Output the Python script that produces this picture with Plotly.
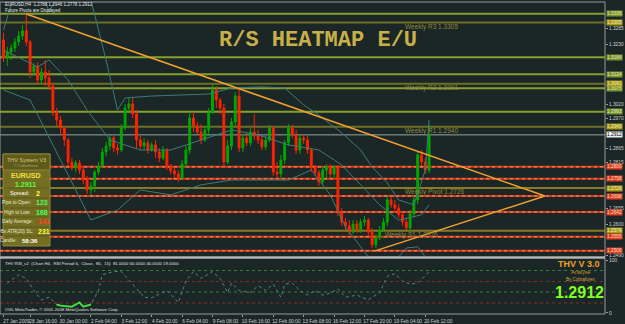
import plotly.graph_objects as go

# ---------------- data ----------------
bar_index = list(range(113))
opens = [1.3244, 1.3181, 1.3202, 1.3216, 1.3237, 1.3258, 1.3276, 1.3237, 1.3132, 1.3153,
         1.3104, 1.3132, 1.3111, 1.3083, 1.2992, 1.2964, 1.2936, 1.2894, 1.2817, 1.2796,
         1.2814, 1.2789, 1.2754, 1.2719, 1.2733, 1.2782, 1.2803, 1.2852, 1.2873, 1.2901,
         1.2866, 1.2859, 1.2936, 1.3006, 1.3020, 1.2985, 1.2894, 1.2873, 1.2884, 1.2859,
         1.2877, 1.2852, 1.2831, 1.2859, 1.2803, 1.2786, 1.2775, 1.2761, 1.2810, 1.2859,
         1.2971, 1.2943, 1.2922, 1.2894, 1.2929, 1.2992, 1.3069, 1.3034, 1.3006, 1.2817,
         1.2873, 1.2957, 1.3048, 1.2866, 1.2901, 1.2884, 1.2922, 1.2908, 1.2894, 1.2870,
         1.2894, 1.2936, 1.2782, 1.2775, 1.2824, 1.2884, 1.2936, 1.2912, 1.2859, 1.2901,
         1.2894, 1.2859, 1.2796, 1.2779, 1.2747, 1.2789, 1.2800, 1.2775, 1.2800, 1.2642,
         1.2607, 1.2593, 1.2572, 1.2600, 1.2579, 1.2607, 1.2614, 1.2572, 1.2527, 1.2551,
         1.2579, 1.2607, 1.2684, 1.2667, 1.2656, 1.2632, 1.2607, 1.2586, 1.2635, 1.2684,
         1.2842, 1.2817, 1.2788]
highs = [1.3269, 1.3220, 1.3230, 1.3251, 1.3276, 1.3297, 1.3335, 1.3244, 1.3164, 1.3167,
         1.3146, 1.3174, 1.3139, 1.3090, 1.3006, 1.2978, 1.2943, 1.2901, 1.2831, 1.2824,
         1.2824, 1.2796, 1.2768, 1.2747, 1.2789, 1.2817, 1.2866, 1.2887, 1.2912, 1.2908,
         1.2880, 1.2950, 1.3020, 1.3041, 1.3041, 1.2999, 1.2908, 1.2901, 1.2894, 1.2887,
         1.2894, 1.2866, 1.2873, 1.2866, 1.2810, 1.2796, 1.2789, 1.2824, 1.2873, 1.2992,
         1.2992, 1.2957, 1.2950, 1.2943, 1.3006, 1.3090, 1.3083, 1.3041, 1.3020, 1.2894,
         1.2971, 1.3062, 1.3076, 1.2915, 1.2922, 1.2936, 1.2985, 1.2929, 1.2908, 1.2908,
         1.2947, 1.2943, 1.2817, 1.2842, 1.2894, 1.2950, 1.2947, 1.2929, 1.2915, 1.2915,
         1.2908, 1.2866, 1.2807, 1.2789, 1.2803, 1.2810, 1.2810, 1.2807, 1.2807, 1.2656,
         1.2621, 1.2614, 1.2614, 1.2614, 1.2618, 1.2628, 1.2621, 1.2586, 1.2565, 1.2593,
         1.2621, 1.2698, 1.2698, 1.2684, 1.2670, 1.2642, 1.2621, 1.2649, 1.2698, 1.2852,
         1.2859, 1.2831, 1.2946]
lows = [1.3167, 1.3153, 1.3174, 1.3202, 1.3223, 1.3244, 1.3223, 1.3111, 1.3118, 1.3087,
        1.3090, 1.3083, 1.3069, 1.2978, 1.2943, 1.2915, 1.2873, 1.2803, 1.2789, 1.2782,
        1.2775, 1.2740, 1.2705, 1.2702, 1.2712, 1.2772, 1.2796, 1.2838, 1.2859, 1.2852,
        1.2842, 1.2852, 1.2929, 1.2992, 1.2971, 1.2866, 1.2859, 1.2859, 1.2845, 1.2852,
        1.2831, 1.2817, 1.2824, 1.2789, 1.2775, 1.2761, 1.2747, 1.2754, 1.2796, 1.2845,
        1.2922, 1.2915, 1.2880, 1.2887, 1.2908, 1.2985, 1.3006, 1.2985, 1.2796, 1.2810,
        1.2859, 1.2943, 1.2852, 1.2852, 1.2873, 1.2873, 1.2894, 1.2880, 1.2859, 1.2859,
        1.2887, 1.2768, 1.2761, 1.2761, 1.2810, 1.2873, 1.2901, 1.2845, 1.2845, 1.2880,
        1.2845, 1.2782, 1.2768, 1.2733, 1.2737, 1.2761, 1.2761, 1.2761, 1.2628, 1.2593,
        1.2579, 1.2562, 1.2565, 1.2569, 1.2569, 1.2593, 1.2558, 1.2516, 1.2516, 1.2544,
        1.2572, 1.2593, 1.2656, 1.2642, 1.2621, 1.2593, 1.2579, 1.2572, 1.2621, 1.2670,
        1.2803, 1.2775, 1.2778]
closes = [1.3181, 1.3202, 1.3216, 1.3237, 1.3258, 1.3276, 1.3237, 1.3132, 1.3153, 1.3104,
          1.3132, 1.3111, 1.3083, 1.2992, 1.2964, 1.2936, 1.2894, 1.2817, 1.2796, 1.2814,
          1.2789, 1.2754, 1.2719, 1.2733, 1.2782, 1.2803, 1.2852, 1.2873, 1.2901, 1.2866,
          1.2859, 1.2936, 1.3006, 1.3020, 1.2985, 1.2894, 1.2873, 1.2884, 1.2859, 1.2877,
          1.2852, 1.2831, 1.2859, 1.2803, 1.2786, 1.2775, 1.2761, 1.2810, 1.2859, 1.2971,
          1.2943, 1.2922, 1.2894, 1.2929, 1.2992, 1.3069, 1.3034, 1.3006, 1.2817, 1.2873,
          1.2957, 1.3048, 1.2866, 1.2901, 1.2884, 1.2922, 1.2908, 1.2894, 1.2870, 1.2894,
          1.2936, 1.2782, 1.2775, 1.2824, 1.2884, 1.2936, 1.2912, 1.2859, 1.2901, 1.2894,
          1.2859, 1.2796, 1.2779, 1.2747, 1.2789, 1.2800, 1.2775, 1.2800, 1.2642, 1.2607,
          1.2593, 1.2572, 1.2600, 1.2579, 1.2607, 1.2614, 1.2572, 1.2527, 1.2551, 1.2579,
          1.2607, 1.2684, 1.2667, 1.2656, 1.2632, 1.2607, 1.2586, 1.2635, 1.2684, 1.2842,
          1.2817, 1.2789, 1.2912]

tick_idx = [0, 7, 15, 23, 31, 39, 47, 55, 63, 71, 79, 87, 95, 103, 111]
tick_labels = ["27 Jan 2009", "28 Jan 16:00", "30 Jan 00:00", "2 Feb 04:00", "3 Feb 12:00",
               "4 Feb 20:00", "6 Feb 04:00", "9 Feb 08:00", "10 Feb 16:00", "12 Feb 00:00",
               "13 Feb 08:00", "16 Feb 12:00", "17 Feb 20:00", "19 Feb 04:00", "20 Feb 12:00"]

price_ticks = [1.3285, 1.3230, 1.3020, 1.2970, 1.2865, 1.2815, 1.2655, 1.2600, 1.2490]

green_levels = [1.3336, 1.3184, 1.3124, 1.3075, 1.2993]
weekly_names = ["R3", "R2", "R1", "Pivot", "S1"]
weekly_levels = [1.3305, 1.3091, 1.2940, 1.2726, 1.2576]
red_levels = [1.2800, 1.2758, 1.2698, 1.2642, 1.2555, 1.2506]
current_price = 1.2912

trend_x = [6, 142.5]
trend_y = [1.3335, 1.2698]
support_x = [97.8, 142.5]
support_y = [1.2506, 1.2698]

bb_up_idx = [0, 2, 4, 10, 12, 15, 20, 23, 27, 30, 32, 39, 46, 54, 60, 68, 74, 79, 83, 89, 94, 97, 101, 104, 108, 111, 112]
bb_up = [1.3279, 1.3374, 1.3454, 1.3419, 1.3342, 1.3419, 1.3454, 1.3384, 1.3174, 1.2999, 1.3041,
         1.3048, 1.3051, 1.3055, 1.3076, 1.3080, 1.3076, 1.3017, 1.2981, 1.2919, 1.2859, 1.2800,
         1.2744, 1.2684, 1.2667, 1.2789, 1.2964]
bb_mid_idx = [0, 9, 12, 17, 22, 28, 36, 44, 52, 60, 67, 75, 83, 89, 94, 99, 104, 110, 112]
bb_mid = [1.3209, 1.3150, 1.3174, 1.3104, 1.2999, 1.2894, 1.2859, 1.2859, 1.2894, 1.2929, 1.2912,
          1.2877, 1.2859, 1.2807, 1.2737, 1.2667, 1.2614, 1.2632, 1.2667]
bb_lo_idx = [0, 7, 15, 23, 30, 36, 44, 52, 60, 68, 75, 81, 86, 90, 96, 104, 106, 109, 111, 112]
bb_lo = [1.3069, 1.3034, 1.2824, 1.2614, 1.2649, 1.2719, 1.2702, 1.2737, 1.2754, 1.2754, 1.2754,
         1.2789, 1.2702, 1.2590, 1.2485, 1.2485, 1.2516, 1.2520, 1.2485, 1.2439]

rsi_idx = [1, 4, 6, 8, 10, 12, 14, 15, 18, 20, 21, 23, 25, 26, 29, 31, 34, 37, 39, 43, 46, 48, 50,
           52, 55, 57, 59, 60, 62, 65, 67, 69, 71, 73, 74, 76, 78, 80, 82, 84, 86, 88, 90, 93, 96,
           99, 101, 103, 105, 107, 109, 112]
rsi_val = [57, 73, 66, 43, 25, 30, 16, 14, 12, 20, 12, 16, 43, 73, 79, 79, 55, 30, 29, 43, 20, 61, 79,
           66, 79, 66, 39, 57, 43, 39, 52, 43, 55, 30, 55, 57, 43, 34, 43, 34, 38, 46, 30, 34, 25,
           39, 70, 75, 61, 55, 57, 79]
rsi_os_idx = [14, 15, 18, 20, 21, 23]
rsi_os_val = [16, 14, 12, 20, 12, 16]
rsi_levels = [81, 60, 40, 19]
rsi_level_colors = ["#3c7a3c", "#8a2a2a", "#3c7a3c", "#8a2a2a"]

symbol = "EURUSD"
bid = 1.2911
spread = 2
pips_to_open = 123
high_to_low = 168
daily_average = 141
atr_sl = 231
candle_time = "58:36"

# ---------------- figure ----------------
BG = "#1b2626"
W, H = 625, 324
ML, MR, MT, MB = 0, 20, 2, 10
PW = W - ML - MR
PH = H - MT - MB


def px(x):
    return x / PW


def py(y):
    return (PH + MT - y) / PH


fig = go.Figure()

for xi, yi in [(bb_up_idx, bb_up), (bb_mid_idx, bb_mid), (bb_lo_idx, bb_lo)]:
    fig.add_trace(go.Scatter(x=xi, y=yi, mode="lines", line=dict(color="#3f7a78", width=1),
                             xaxis="x", yaxis="y", hoverinfo="skip"))

fig.add_trace(go.Candlestick(
    x=bar_index, open=opens, high=highs, low=lows, close=closes,
    increasing=dict(line=dict(color="#00a800", width=1), fillcolor="#00a800"),
    decreasing=dict(line=dict(color="#ff2200", width=1), fillcolor="#ff2200"),
    whiskerwidth=0, xaxis="x", yaxis="y", hoverinfo="skip"))

fig.add_trace(go.Scatter(x=trend_x, y=trend_y, mode="lines", line=dict(color="#f0a030", width=1.5),
                         xaxis="x", yaxis="y", hoverinfo="skip"))
fig.add_trace(go.Scatter(x=support_x, y=support_y, mode="lines", line=dict(color="#f0a030", width=1.5),
                         xaxis="x", yaxis="y", hoverinfo="skip"))

fig.add_trace(go.Scatter(x=rsi_idx, y=rsi_val, mode="lines",
                         line=dict(color="#4f8a86", width=1, dash="dot"),
                         xaxis="x2", yaxis="y2", hoverinfo="skip"))
fig.add_trace(go.Scatter(x=rsi_os_idx, y=rsi_os_val, mode="lines",
                         line=dict(color="#3ee03e", width=2),
                         xaxis="x2", yaxis="y2", hoverinfo="skip"))

shapes = []
for lv in green_levels:
    shapes.append(dict(type="line", xref="x domain", yref="y", x0=0, x1=1, y0=lv, y1=lv,
                       line=dict(color="#86a02c", width=2), layer="below"))
for name, lv in zip(weekly_names, weekly_levels):
    col = "#8a7a22" if name in ("Pivot", "S1") else "#6c7026"
    shapes.append(dict(type="line", xref="x domain", yref="y", x0=0, x1=1, y0=lv, y1=lv,
                       line=dict(color=col, width=2), layer="below"))
for lv in red_levels:
    shapes.append(dict(type="line", xref="x domain", yref="y", x0=0, x1=1, y0=lv, y1=lv,
                       line=dict(color="#d83818", width=2), layer="below"))
    shapes.append(dict(type="line", xref="x domain", yref="y", x0=0, x1=1, y0=lv, y1=lv,
                       line=dict(color="#ff9a60", width=1, dash="dot"), layer="below"))
shapes.append(dict(type="line", xref="x domain", yref="y", x0=0, x1=1, y0=current_price, y1=current_price,
                   line=dict(color="#9aa6a6", width=1), layer="below"))
for lv, col in zip(rsi_levels, rsi_level_colors):
    shapes.append(dict(type="line", xref="x2 domain", yref="y2", x0=0, x1=1, y0=lv, y1=lv,
                       line=dict(color=col, width=1, dash="dot"), layer="below"))

shapes.append(dict(type="rect", xref="paper", yref="paper", x0=0, x1=1, y0=py(257), y1=py(2),
                   line=dict(color="#9a9a9a", width=1)))
shapes.append(dict(type="rect", xref="paper", yref="paper", x0=0, x1=1, y0=0, y1=py(258),
                   line=dict(color="#9a9a9a", width=1)))
shapes.append(dict(type="line", xref="paper", yref="paper", x0=0, x1=1, y0=py(257.5), y1=py(257.5),
                   line=dict(color="#b8b8b8", width=2)))

shapes.append(dict(type="rect", xref="paper", yref="paper", x0=px(3), x1=px(50), y0=py(246), y1=py(154),
                   fillcolor="#746e22", line=dict(color="#8c8636", width=1)))
shapes.append(dict(type="rect", xref="paper", yref="paper", x0=px(3), x1=px(50), y0=py(170), y1=py(154),
                   fillcolor="#5e5a1c", line=dict(color="#8c8636", width=1)))
for yy in [188, 198, 208, 217, 227, 236]:
    shapes.append(dict(type="line", xref="paper", yref="paper", x0=px(4), x1=px(49), y0=py(yy), y1=py(yy),
                       line=dict(color="#5c5818", width=1)))

annotations = []


def ann(text, x, y, size, color, xanchor="left", yanchor="middle", bold=False, family="Liberation Sans"):
    if bold:
        text = "<b>" + text + "</b>"
    annotations.append(dict(text=text, xref="paper", yref="paper", x=px(x), y=py(y),
                            xanchor=xanchor, yanchor=yanchor, showarrow=False,
                            font=dict(size=size, color=color, family=family)))


ann(f"EURUSD,H4  {opens[-1]:.4f} {highs[-1]:.4f} {lows[-1]:.4f} {closes[-1]:.4f}", 3, 5, 4.5, "#e6e6e6")
ann("Future Pivots are Displayed", 3, 10.5, 4.5, "#e6e6e6")
ann("R/S HEATMAP E/U", 318, 40.5, 22, "#c8b048", xanchor="center", bold=True, family="Liberation Mono")

weekly_x = {"R3": 403, "R2": 403, "R1": 403, "Pivot": 403, "S1": 383}
for name, lv in zip(weekly_names, weekly_levels):
    annotations.append(dict(text=f"Weekly {name} {lv:.4f}", xref="x", yref="y",
                            x=(weekly_x[name] - 3.5) / 3.8, y=lv, xanchor="left", yanchor="top",
                            yshift=2, showarrow=False,
                            font=dict(size=6.5, color="#8c8a3c", family="Liberation Sans")))


def box(lv, bg, fg):
    annotations.append(dict(text=f"{lv:.4f}", xref="paper", yref="y", x=1, y=lv, xanchor="left",
                            yanchor="middle", xshift=1, showarrow=False, bgcolor=bg, borderpad=0,
                            font=dict(size=4.8, color=fg, family="Liberation Sans")))


for lv in green_levels:
    box(lv, "#7c9428", "#dfe8c0")
for lv in weekly_levels:
    box(lv, "#a89a1c", "#f2eab0")
for lv in red_levels:
    box(lv, "#e0401c", "#ffd8c8")
box(current_price, "#eeeeee", "#000000")

ann("THV System V3", 26, 160, 5.5, "#d8cc70", xanchor="center")
ann("© CobraForex", 26, 166, 3.8, "#b0a860", xanchor="center")
ann(symbol, 26, 175.5, 7, "#f0e040", xanchor="center", bold=True)
ann(f"{bid:.4f}", 25, 184.5, 7, "#50ff40", xanchor="center", bold=True)
ann("Spread:", 32, 193, 5.5, "#ffffff", xanchor="right")
ann(str(spread), 34, 193, 7, "#ffff40", bold=True)
ann("Pips to Open:", 33, 203, 4.8, "#e8e8d0", xanchor="right")
ann(str(pips_to_open), 34, 203, 7, "#40ff60", bold=True)
ann("High to Low:", 33, 212.5, 4.8, "#e8e8d0", xanchor="right")
ann(str(high_to_low), 34, 212.5, 7, "#40ff60", bold=True)
ann("Daily Average:", 35, 222, 4.8, "#e8e8d0", xanchor="right")
ann(str(daily_average), 36, 222, 7, "#ff4020", bold=True)
ann("5x ATR(20) SL:", 35, 231.5, 4.8, "#e8e8d0", xanchor="right")
ann(str(atr_sl), 36, 231.5, 7, "#ffff40", bold=True)
ann("Candle:", 19, 241, 4.8, "#e8e8d0", xanchor="right")
ann(candle_time, 20, 241, 6, "#ffffff", bold=True)

ann("THV RSI_v2  (Chart H4,  RSI Period 6,  Close,  80,  15)  81.0000 60.0000 40.0000 19.0000",
    3, 263, 4.3, "#e0e0e0")
ann("OGL MetaTrader, © 2001-2008 MetaQuotes Software Corp.", 3, 309, 4.3, "#e0e0e0")

ann("THV V 3.0", 579, 264, 9, "#f0a020", xanchor="center", bold=True)
ann("Analyse", 581, 272, 5.5, "#d09020", xanchor="center")
ann("By Cobraforex", 581, 279.5, 4.5, "#c8b040", xanchor="center")
ann(f"{closes[-1]:.4f}", 579, 292.5, 16, "#80ff20", xanchor="center", bold=True)

fig.update_layout(
    width=W, height=H, margin=dict(l=ML, r=MR, t=MT, b=MB),
    paper_bgcolor=BG, plot_bgcolor=BG, showlegend=False, hovermode=False,
    shapes=shapes, annotations=annotations,
    xaxis=dict(domain=[0, 1], anchor="y", range=[-0.92, 158.3], showticklabels=False,
               showgrid=False, zeroline=False, showline=False, ticks="",
               rangeslider=dict(visible=False)),
    yaxis=dict(domain=[py(257), py(3)], anchor="x", range=[1.24845, 1.33735], side="right",
               tickvals=price_ticks, ticktext=[f"{v:.4f}" for v in price_ticks],
               tickfont=dict(size=4.8, color="#d0d0d0", family="Liberation Sans"),
               ticks="outside", ticklen=2, tickcolor="#9a9a9a",
               showgrid=False, zeroline=False, showline=False),
    xaxis2=dict(domain=[0, 1], anchor="y2", matches="x", tickvals=tick_idx, ticktext=tick_labels,
                tickangle=0,
                tickfont=dict(size=4.8, color="#d0d0d0", family="Liberation Sans"),
                ticks="outside", ticklen=2, tickcolor="#9a9a9a", ticklabelshift=13,
                showgrid=False, zeroline=False, showline=False),
    yaxis2=dict(domain=[0, py(258)], anchor="x2", range=[-2, 105], side="right",
                tickvals=[0, 100], ticktext=["0", "100"],
                tickfont=dict(size=5, color="#d0d0d0", family="Liberation Sans"),
                ticks="outside", ticklen=2, tickcolor="#9a9a9a",
                showgrid=False, zeroline=False, showline=False),
)

fig.write_html("out.html")
